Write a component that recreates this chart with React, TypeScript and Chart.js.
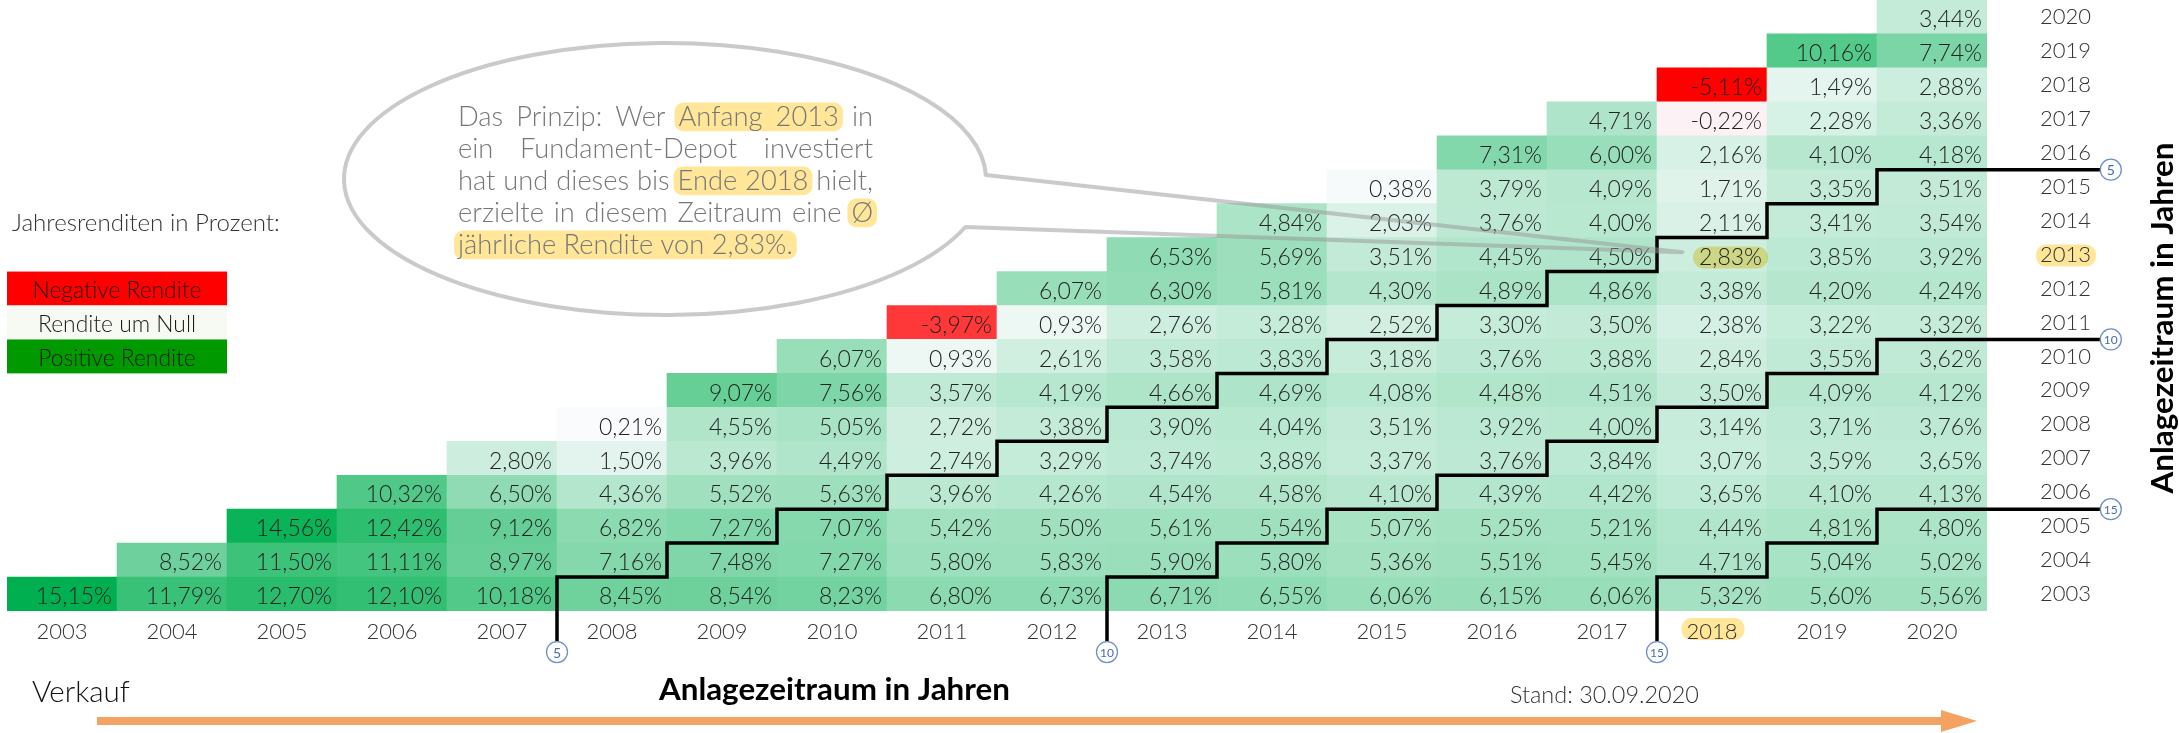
import React, { useEffect, useRef } from 'react';
import { Chart, registerables } from 'chart.js';

Chart.register(...registerables);

// ---------- data ----------
const SELL_YEARS = ['2003', '2004', '2005', '2006', '2007', '2008', '2009', '2010', '2011', '2012', '2013', '2014', '2015', '2016', '2017', '2018', '2019', '2020'];
const BUY_YEARS = [2003, 2004, 2005, 2006, 2007, 2008, 2009, 2010, 2011, 2012, 2013, 2014, 2015, 2016, 2017, 2018, 2019, 2020];

// annualised return (%) for buy year (row) held until sell year (column), starting at sell year = buy year
const RET_2003 = [15.15, 11.79, 12.7, 12.1, 10.18, 8.45, 8.54, 8.23, 6.8, 6.73, 6.71, 6.55, 6.06, 6.15, 6.06, 5.32, 5.6, 5.56];
const RET_2004 = [8.52, 11.5, 11.11, 8.97, 7.16, 7.48, 7.27, 5.8, 5.83, 5.9, 5.8, 5.36, 5.51, 5.45, 4.71, 5.04, 5.02];
const RET_2005 = [14.56, 12.42, 9.12, 6.82, 7.27, 7.07, 5.42, 5.5, 5.61, 5.54, 5.07, 5.25, 5.21, 4.44, 4.81, 4.8];
const RET_2006 = [10.32, 6.5, 4.36, 5.52, 5.63, 3.96, 4.26, 4.54, 4.58, 4.1, 4.39, 4.42, 3.65, 4.1, 4.13];
const RET_2007 = [2.8, 1.5, 3.96, 4.49, 2.74, 3.29, 3.74, 3.88, 3.37, 3.76, 3.84, 3.07, 3.59, 3.65];
const RET_2008 = [0.21, 4.55, 5.05, 2.72, 3.38, 3.9, 4.04, 3.51, 3.92, 4.0, 3.14, 3.71, 3.76];
const RET_2009 = [9.07, 7.56, 3.57, 4.19, 4.66, 4.69, 4.08, 4.48, 4.51, 3.5, 4.09, 4.12];
const RET_2010 = [6.07, 0.93, 2.61, 3.58, 3.83, 3.18, 3.76, 3.88, 2.84, 3.55, 3.62];
const RET_2011 = [-3.97, 0.93, 2.76, 3.28, 2.52, 3.3, 3.5, 2.38, 3.22, 3.32];
const RET_2012 = [6.07, 6.3, 5.81, 4.3, 4.89, 4.86, 3.38, 4.2, 4.24];
const RET_2013 = [6.53, 5.69, 3.51, 4.45, 4.5, 2.83, 3.85, 3.92];
const RET_2014 = [4.84, 2.03, 3.76, 4.0, 2.11, 3.41, 3.54];
const RET_2015 = [0.38, 3.79, 4.09, 1.71, 3.35, 3.51];
const RET_2016 = [7.31, 6.0, 2.16, 4.1, 4.18];
const RET_2017 = [4.71, -0.22, 2.28, 3.36];
const RET_2018 = [-5.11, 1.49, 2.88];
const RET_2019 = [10.16, 7.74];
const RET_2020 = [3.44];

const RETURNS = [RET_2003, RET_2004, RET_2005, RET_2006, RET_2007, RET_2008, RET_2009, RET_2010, RET_2011, RET_2012, RET_2013, RET_2014, RET_2015, RET_2016, RET_2017, RET_2018, RET_2019, RET_2020];

const HOLDING_PERIODS = [5, 10, 15];
const EXAMPLE_BUY = 2013;
const EXAMPLE_SELL = '2018';

const LEGEND_LABELS = ['Negative Rendite', 'Rendite um Null', 'Positive Rendite'];
const BALLOON_LINES = [
  'Das Prinzip: Wer [Anfang 2013] in',
  'ein Fundament-Depot investiert',
  'hat und dieses bis [Ende 2018] hielt,',
  'erzielte in diesem Zeitraum eine [Ø]',
  '[jährliche Rendite von 2,83%.]',
];

// ---------- styles / layout ----------
const W = 2179;
const H = 733;
const FONT = 'Lato';
const NEG_COLOR = [255, 0, 0];
const MID_COLOR = [252, 252, 255];
const POS_COLOR = [0, 176, 80];
const HIGHLIGHT = '#ffe699';
const CELL_FONT = 23;
const Y_TICK_PAD = 53;
const BELOW_EXT = 0.9; // staircase extension below the axis (in year units)
const RIGHT_EXT = 1.03; // staircase extension to the right (in year units)
const MARK_R = 10.5;

const ALL_VALUES = RETURNS.flat();
const MIN_V = Math.min(...ALL_VALUES);
const MAX_V = Math.max(...ALL_VALUES);

function mix(a: number[], b: number[], f: number) {
  const c = a.map((v, i) => Math.round(v + (b[i] - v) * f));
  return `rgb(${c[0]},${c[1]},${c[2]})`;
}
function cellColor(v: number) {
  if (v < 0) return mix(MID_COLOR, NEG_COLOR, v / MIN_V);
  return mix(MID_COLOR, POS_COLOR, v / MAX_V);
}
function fmt(v: number) {
  return v.toFixed(2).replace('.', ',') + '%';
}
function rr(ctx: CanvasRenderingContext2D, x: number, y: number, w: number, h: number, r: number) {
  ctx.beginPath();
  (ctx as any).roundRect(x, y, w, h, r);
}
function fitSize(ctx: CanvasRenderingContext2D, text: string, weight: string, target: number) {
  ctx.font = `${weight} 100px ${FONT}`;
  return (100 * target) / ctx.measureText(text).width;
}

function staircase(h: number) {
  const first = BUY_YEARS[0];
  const last = BUY_YEARS[BUY_YEARS.length - 1];
  const pts: { x: number; y: number }[] = [{ x: first + h - 0.5, y: first - 0.5 - BELOW_EXT }];
  for (let b = first; b <= last - h; b++) {
    const xv = b + h - 0.5;
    pts.push({ x: xv, y: b + 0.5 });
    pts.push({ x: b < last - h ? xv + 1 : last + 0.5 + RIGHT_EXT, y: b + 0.5 });
  }
  return pts;
}

function parseWords(line: string) {
  const words: { t: string; h: boolean }[] = [];
  let on = false;
  for (let w of line.split(' ')) {
    let h = on;
    if (w.startsWith('[')) { w = w.slice(1); h = true; on = true; }
    if (w.endsWith(']')) { w = w.slice(0, -1); on = false; }
    words.push({ t: w, h });
  }
  return words;
}

const cellPlugin = {
  id: 'cellText',
  afterDatasetDraw(chart: any, args: any) {
    const ds = chart.data.datasets[args.index];
    if (!ds.returns) return;
    const ctx: CanvasRenderingContext2D = chart.ctx;
    ctx.save();
    ctx.font = `300 ${CELL_FONT}px ${FONT}`;
    ctx.textAlign = 'right';
    ctx.textBaseline = 'alphabetic';
    args.meta.data.forEach((el: any, i: number) => {
      const v = ds.returns[i];
      if (v == null) return;
      const p = el.getProps(['x', 'y', 'base', 'width'], true);
      const right = p.x + p.width / 2 - 5;
      const cy = (p.y + p.base) / 2;
      const label = fmt(v);
      if (ds.buyYear === EXAMPLE_BUY && SELL_YEARS[i] === EXAMPLE_SELL) {
        const w = ctx.measureText(label).width;
        ctx.globalCompositeOperation = 'multiply';
        ctx.fillStyle = HIGHLIGHT;
        rr(ctx, right - w - 6, cy - 8, w + 12, 22, 11);
        ctx.fill();
        ctx.globalCompositeOperation = 'source-over';
      }
      ctx.fillStyle = '#222';
      ctx.fillText(label, right, cy + 0.36 * CELL_FONT + 2);
    });
    ctx.restore();
  },
};

const decoPlugin = {
  id: 'deco',
  beforeDraw(chart: any) {
    const ctx: CanvasRenderingContext2D = chart.ctx;
    const { x, y } = chart.scales;
    const area = chart.chartArea;
    ctx.save();
    ctx.font = `300 22px ${FONT}`;
    // highlight behind y tick "2013"
    const ty = y.getPixelForValue(EXAMPLE_BUY);
    const tw = ctx.measureText(String(EXAMPLE_BUY)).width;
    const tx = area.right + Y_TICK_PAD;
    ctx.fillStyle = HIGHLIGHT;
    rr(ctx, tx - 4, ty - 10, tw + 9, 22, 10);
    ctx.fill();
    // highlight behind x tick "2018"
    const xi = SELL_YEARS.indexOf(EXAMPLE_SELL);
    const xx = x.getPixelForValue(xi);
    const xw = ctx.measureText(EXAMPLE_SELL).width;
    rr(ctx, xx - xw / 2 - 5, area.bottom + 7, xw + 12, 22, 10);
    ctx.fill();
    ctx.restore();
  },
  afterDraw(chart: any) {
    const ctx: CanvasRenderingContext2D = chart.ctx;
    const { y, xl } = chart.scales;
    const first = BUY_YEARS[0];
    const last = BUY_YEARS[BUY_YEARS.length - 1];
    ctx.save();

    // legend (two spreadsheet cells wide, in rows 2012..2010)
    const lx0 = xl.getPixelForValue(first - 0.5);
    const lx1 = xl.getPixelForValue(first + 1.5);
    const legendColors = ['#ff0000', '#f7f9f3', '#009900'];
    const lsize = fitSize(ctx, LEGEND_LABELS[0], '300', 169);
    LEGEND_LABELS.forEach((lab, i) => {
      const top = y.getPixelForValue(2012.5 - i);
      const bot = y.getPixelForValue(2011.5 - i);
      ctx.fillStyle = legendColors[i];
      ctx.fillRect(lx0, top, lx1 - lx0, bot - top);
      ctx.fillStyle = '#1a1a1a';
      ctx.font = `300 ${lsize}px ${FONT}`;
      ctx.textAlign = 'center';
      ctx.textBaseline = 'alphabetic';
      ctx.fillText(lab, (lx0 + lx1) / 2, (top + bot) / 2 + 0.36 * lsize + 1);
    });
    const jsize = fitSize(ctx, 'Jahresrenditen in Prozent:', '300', 268);
    ctx.font = `300 ${jsize}px ${FONT}`;
    ctx.textAlign = 'left';
    ctx.fillStyle = '#333';
    ctx.fillText('Jahresrenditen in Prozent:', 12, 231);

    // balloon callout
    const cx = 665, cy = 179, rx = 321, ry = 136;
    const upY = 175, loY = 227;
    const aUp = Math.asin((upY - cy) / ry);
    const aLo = Math.asin((loY - cy) / ry);
    const tipX = xl.getPixelForValue(2017.73);
    const tipY = y.getPixelForValue(EXAMPLE_BUY + 0.07);
    ctx.beginPath();
    ctx.ellipse(cx, cy, rx, ry, 0, aLo, aUp + Math.PI * 2);
    ctx.lineTo(tipX, tipY);
    ctx.closePath();
    ctx.strokeStyle = 'rgba(150,150,150,0.5)';
    ctx.lineWidth = 4;
    ctx.lineJoin = 'round';
    ctx.stroke();

    // balloon text (justified)
    const bsize = fitSize(ctx, 'jährliche Rendite von 2,83%.', '300', 335);
    ctx.font = `300 ${bsize}px ${FONT}`;
    const X0 = 458, BW = 415;
    BALLOON_LINES.forEach((line, li) => {
      const words = parseWords(line);
      const widths = words.map((w) => ctx.measureText(w.t).width);
      const total = widths.reduce((a, b) => a + b, 0);
      const justify = li < BALLOON_LINES.length - 1;
      const gap = justify ? (BW - total) / (words.length - 1) : ctx.measureText(' ').width;
      const base = 126 + li * 32;
      const xs: number[] = [];
      let xp = X0;
      words.forEach((w, i) => { xs.push(xp); xp += widths[i] + gap; });
      let i = 0;
      while (i < words.length) {
        if (words[i].h) {
          let j = i;
          while (j + 1 < words.length && words[j + 1].h) j++;
          const a = xs[i] - 4, b = xs[j] + widths[j] + 4;
          ctx.fillStyle = HIGHLIGHT;
          rr(ctx, a, base - 0.86 * bsize, b - a, 1.05 * bsize, 9);
          ctx.fill();
          i = j + 1;
        } else i++;
      }
      ctx.fillStyle = '#777';
      ctx.textAlign = 'left';
      words.forEach((w, k) => ctx.fillText(w.t, xs[k], base));
    });

    // holding-period markers
    HOLDING_PERIODS.forEach((h) => {
      const marks = [
        { x: xl.getPixelForValue(first + h - 0.5), y: y.getPixelForValue(first - 0.5 - BELOW_EXT) + MARK_R },
        { x: xl.getPixelForValue(last + 0.5 + RIGHT_EXT) + MARK_R, y: y.getPixelForValue(last - h + 0.5) },
      ];
      marks.forEach((m) => {
        ctx.beginPath();
        ctx.arc(m.x, m.y, MARK_R, 0, Math.PI * 2);
        ctx.fillStyle = '#fff';
        ctx.fill();
        ctx.strokeStyle = '#6f8fc8';
        ctx.lineWidth = 1.3;
        ctx.stroke();
        ctx.fillStyle = '#4a6aa8';
        ctx.font = `400 ${h < 10 ? 14 : 12}px ${FONT}`;
        ctx.textAlign = 'center';
        ctx.textBaseline = 'middle';
        ctx.fillText(String(h), m.x, m.y + 1);
      });
    });

    // bottom texts
    ctx.textBaseline = 'alphabetic';
    ctx.textAlign = 'left';
    const vsize = fitSize(ctx, 'Verkauf', '300', 98);
    ctx.font = `300 ${vsize}px ${FONT}`;
    ctx.fillStyle = '#111';
    ctx.fillText('Verkauf', 32, 702);
    const tsize = fitSize(ctx, 'Anlagezeitraum in Jahren', '700', 351);
    ctx.font = `700 ${tsize}px ${FONT}`;
    ctx.fillStyle = '#000';
    ctx.fillText('Anlagezeitraum in Jahren', 659, 700);
    const ssize = fitSize(ctx, 'Stand: 30.09.2020', '300', 189);
    ctx.font = `300 ${ssize}px ${FONT}`;
    ctx.fillStyle = '#333';
    ctx.fillText('Stand: 30.09.2020', 1510, 703);

    // vertical title on the right
    ctx.save();
    ctx.translate(2163, 318);
    ctx.rotate(-Math.PI / 2);
    ctx.font = `700 ${tsize}px ${FONT}`;
    ctx.fillStyle = '#000';
    ctx.textAlign = 'center';
    ctx.textBaseline = 'middle';
    ctx.fillText('Anlagezeitraum in Jahren', 0, 0);
    ctx.restore();

    // orange arrow
    ctx.fillStyle = '#f4a261';
    ctx.fillRect(97, 717, 1941 - 97, 8);
    ctx.beginPath();
    ctx.moveTo(1941, 710);
    ctx.lineTo(1977, 721);
    ctx.lineTo(1941, 732);
    ctx.closePath();
    ctx.fill();

    ctx.restore();
  },
};

export default function App() {
  const ref = useRef<HTMLCanvasElement>(null);
  useEffect(() => {
    const canvas = ref.current;
    if (!canvas) return;

    const barSets: any[] = BUY_YEARS.map((by, bi) => {
      const rets = RETURNS[bi];
      const returns = SELL_YEARS.map((_, si) => (si >= bi ? rets[si - bi] : null));
      return {
        type: 'bar',
        label: String(by),
        buyYear: by,
        returns,
        data: returns.map((v) => (v == null ? null : [by - 0.5, by + 0.5])),
        backgroundColor: returns.map((v) => (v == null ? 'rgba(0,0,0,0)' : cellColor(v))),
        borderWidth: 0,
        barPercentage: 1,
        categoryPercentage: 1,
        grouped: false,
        xAxisID: 'x',
        yAxisID: 'y',
        order: 1,
      };
    });
    const lineSets: any[] = HOLDING_PERIODS.map((h) => ({
      type: 'line',
      label: `${h} Jahre`,
      data: staircase(h),
      xAxisID: 'xl',
      yAxisID: 'y',
      borderColor: '#000',
      borderWidth: 3.5,
      pointRadius: 0,
      tension: 0,
      fill: false,
      clip: false,
      borderCapStyle: 'butt',
      borderJoinStyle: 'miter',
      order: 0,
    }));

    const tickFont = { family: FONT, size: 22, weight: '300' as any };
    const chart = new Chart(canvas, {
      type: 'bar',
      data: { labels: SELL_YEARS, datasets: [...barSets, ...lineSets] },
      options: {
        responsive: false,
        maintainAspectRatio: false,
        devicePixelRatio: 1,
        animation: false,
        events: [],
        layout: { padding: { left: 7, top: 0, right: 0, bottom: 0 } },
        plugins: { legend: { display: false }, tooltip: { enabled: false }, title: { display: false } },
        scales: {
          x: {
            type: 'category',
            position: 'bottom',
            offset: true,
            grid: { display: false, drawTicks: false, tickLength: 0 },
            border: { display: false },
            ticks: { font: tickFont, color: '#333', padding: 8, autoSkip: false, maxRotation: 0, minRotation: 0 },
            afterFit: (s: any) => { s.height = H - 611; s.paddingLeft = 0; s.paddingRight = 0; },
          },
          xl: {
            type: 'linear',
            display: false,
            offset: false,
            grid: { offset: false },
            min: 2002.5,
            max: 2020.5,
          },
          y: {
            type: 'linear',
            position: 'right',
            min: 2002.5,
            max: 2020.5,
            grid: { display: false, drawTicks: false, tickLength: 0 },
            border: { display: false },
            afterBuildTicks: (s: any) => { s.ticks = BUY_YEARS.map((v) => ({ value: v })); },
            ticks: { font: tickFont, color: '#333', padding: Y_TICK_PAD, autoSkip: false, callback: (v: any) => String(v) },
            afterFit: (s: any) => { s.width = W - 1987; s.paddingTop = 0; s.paddingBottom = 0; },
          },
        },
      } as any,
      plugins: [cellPlugin, decoPlugin],
    } as any);
    return () => chart.destroy();
  }, []);

  return (
    <div style={{ position: 'absolute', left: 0, top: 0, width: W, height: H, background: '#fff' }}>
      <canvas ref={ref} width={W} height={H} style={{ display: 'block', width: W, height: H }} />
    </div>
  );
}
